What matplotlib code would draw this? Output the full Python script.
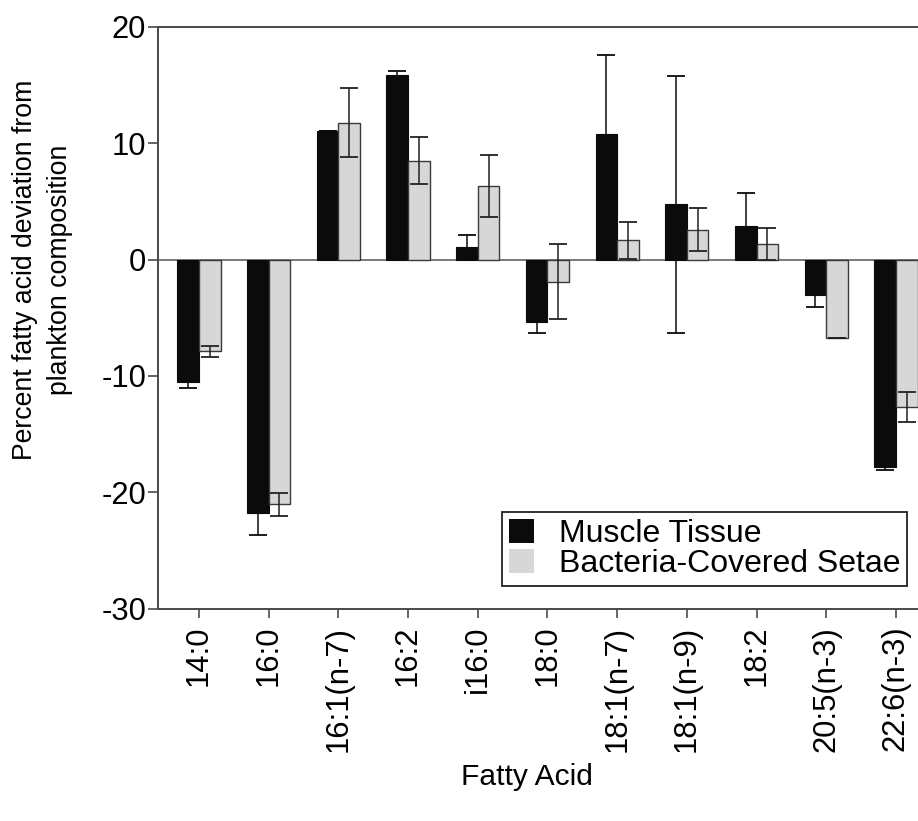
import numpy as np
import matplotlib
matplotlib.use("Agg")
import matplotlib.pyplot as plt
from matplotlib.patches import Patch

plt.rcParams['font.family'] = ['Liberation Sans', 'DejaVu Sans']

# Fatty acid deviation from plankton composition (%)
fatty_acids = ["14:0", "16:0", "16:1(n-7)", "16:2", "i16:0", "18:0",
               "18:1(n-7)", "18:1(n-9)", "18:2", "20:5(n-3)", "22:6(n-3)"]
muscle = [-10.5, -21.8, 11.1, 15.9, 1.05, -5.35, 10.8, 4.77, 2.85, -3.05, -17.85]
muscle_err = [0.5, 1.85, 0.0, 0.3, 1.05, 1.0, 6.8, 11.05, 2.85, 1.05, 0.25]
setae = [-7.9, -21.05, 11.77, 8.5, 6.35, -1.9, 1.65, 2.57, 1.35, -6.77, -12.7]
setae_err = [0.5, 1.0, 2.95, 2.0, 2.65, 3.2, 1.6, 1.83, 1.35, 0.0, 1.3]

series_names = ["Muscle Tissue", "Bacteria-Covered Setae"]
yticks = [-30, -20, -10, 0, 10, 20]

fig = plt.figure(figsize=(9.18, 8.21), dpi=100)
ax = fig.add_axes([158 / 918, 1 - 608.5 / 821, 760 / 918, (608.5 - 27) / 821])

x = np.arange(len(fatty_acids))
w = 0.31
black = "#0b0b0b"
grey = "#d7d7d7"
edge = "#3a3a3a"

ax.bar(x - w / 2, muscle, width=w, color=black, edgecolor=black, linewidth=0.8, zorder=2)
ax.bar(x + w / 2, setae, width=w, color=grey, edgecolor=edge, linewidth=1.0, zorder=2)
ax.errorbar(x - w / 2, muscle, yerr=muscle_err, fmt="none", ecolor=black,
            elinewidth=1.1, capsize=6.5, capthick=1.3, zorder=3)
ax.errorbar(x + w / 2, setae, yerr=setae_err, fmt="none", ecolor="#222222",
            elinewidth=1.1, capsize=6.5, capthick=1.3, zorder=3)

ax.axhline(0, color="#555555", linewidth=1.1, zorder=1)

ax.set_xlim(-0.588, 10.316)
ax.set_ylim(-30, 20)
ax.set_yticks(yticks)
ax.set_yticklabels([str(t) for t in yticks])
ax.set_xticks(x)
ax.set_xticklabels(fatty_acids, rotation=90)

for side in ["left", "bottom", "top"]:
    ax.spines[side].set_color("#4a4a4a")
    ax.spines[side].set_linewidth(1.4)
ax.spines["right"].set_visible(False)

ax.tick_params(axis="y", direction="out", length=7, width=1.2, color="#4a4a4a",
               labelsize=22.3, pad=1.5)
ax.tick_params(axis="x", direction="out", length=6.5, width=1.2, color="#4a4a4a",
               labelsize=22.3, pad=6)

ax.set_xlabel("Fatty Acid", fontsize=21.6, va="center")
ax.xaxis.set_label_coords(0.486, -0.29)
ax.set_ylabel("Percent fatty acid deviation from\nplankton composition",
              fontsize=19.2, va="center", ha="center", linespacing=1.45)
ax.yaxis.set_label_coords(-0.152, 0.582)

handles = [Patch(facecolor=black, edgecolor="none"),
           Patch(facecolor=grey, edgecolor="none")]
leg = ax.legend(handles, series_names, loc="upper left",
                bbox_to_anchor=(0.4526, 0.166), fontsize=23, frameon=True,
                fancybox=False, edgecolor="#222222", framealpha=1,
                borderpad=0.22, labelspacing=0.0, handlelength=0.78,
                handleheight=0.75, handletextpad=0.78, borderaxespad=0)
leg.get_frame().set_linewidth(1.3)

fig.savefig("out.png", dpi=100)
